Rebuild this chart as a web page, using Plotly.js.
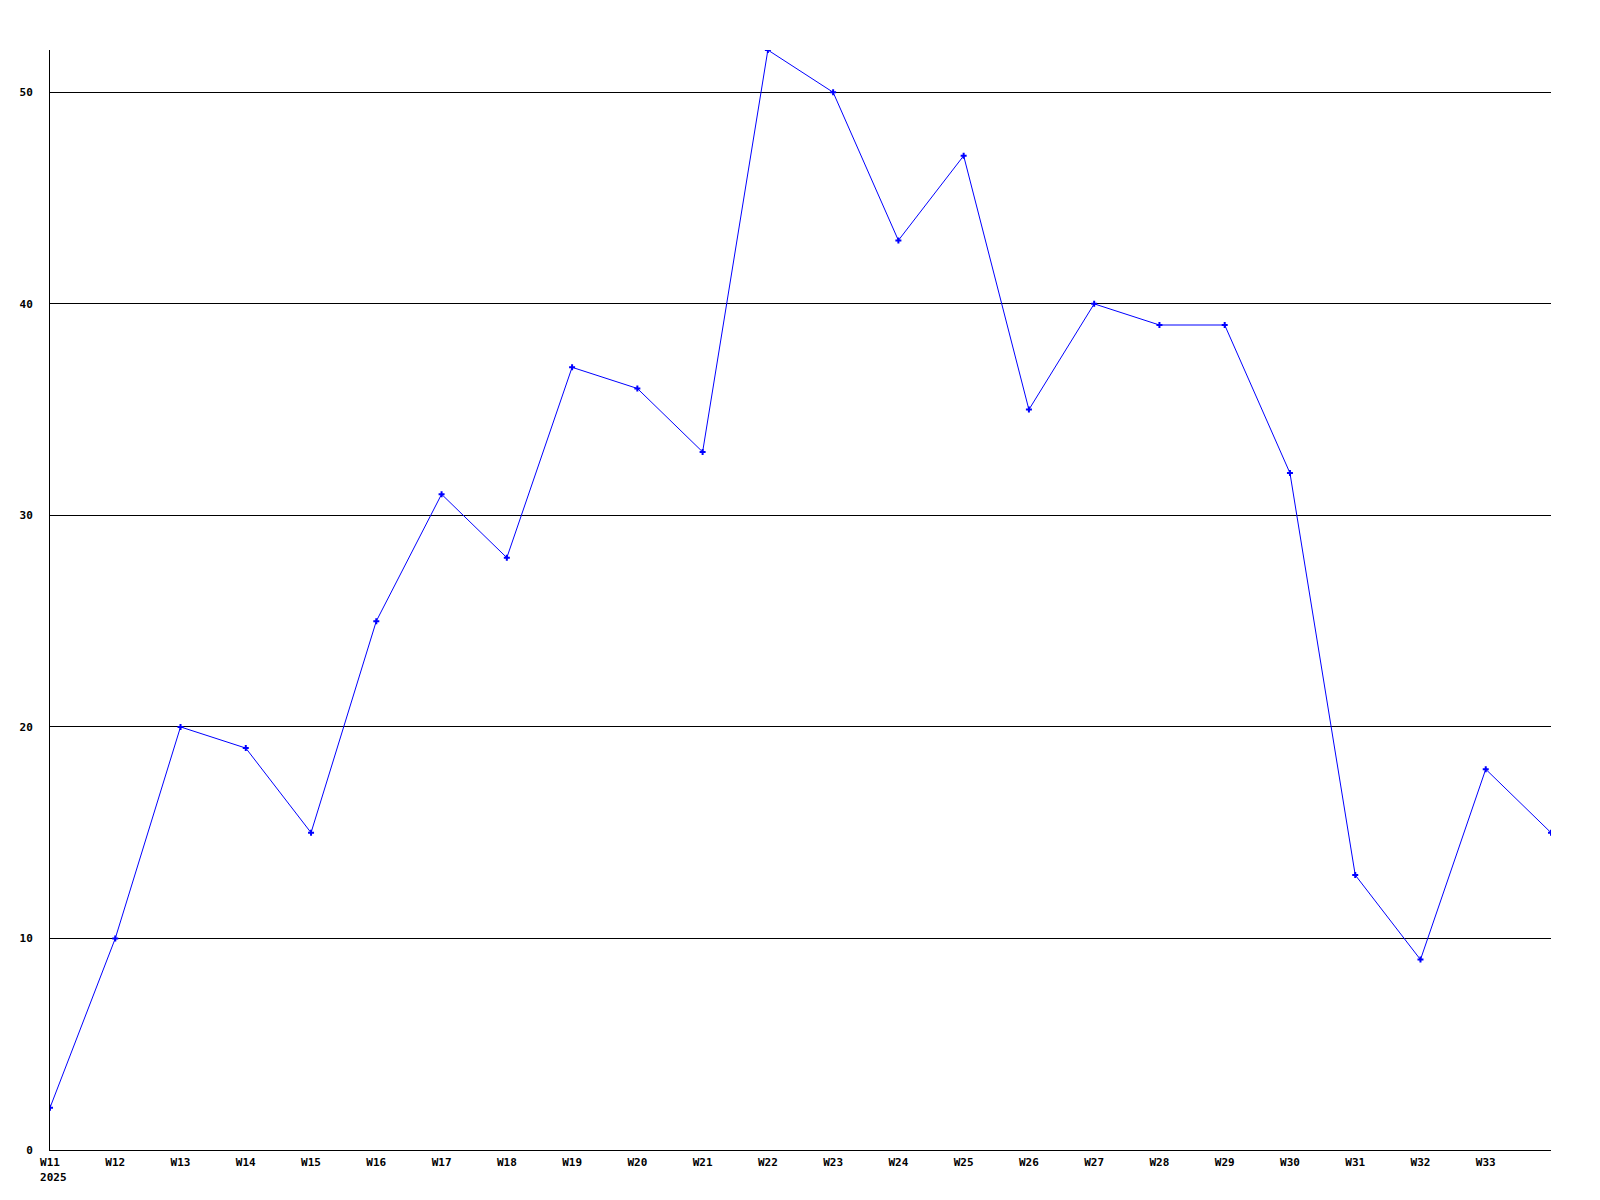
<!DOCTYPE html>
<html>
<head>
<meta charset="utf-8">
<script src="https://cdn.plot.ly/plotly-3.0.1.min.js"></script>
<style>html,body{margin:0;padding:0;background:#fff;}#chart{width:1600px;height:1200px;}</style>
</head>
<body>
<div id="chart"></div>
<script>
const weeks = ["W11","W12","W13","W14","W15","W16","W17","W18","W19","W20","W21","W22","W23","W24","W25","W26","W27","W28","W29","W30","W31","W32","W33","W34"];
const values = [2,10,20,19,15,25,31,28,37,36,33,52,50,43,47,35,40,39,39,32,13,9,18,15];
const yearLabel = "2025";
const yTicks = [0,10,20,30,40,50];

const xIdx = weeks.map((w,i)=>i);
const shownTicks = xIdx.slice(0, weeks.length-1);
const tickText = shownTicks.map(i => i===0 ? weeks[i] + "<br>&nbsp;" + yearLabel : weeks[i]);

const font = {family: "DejaVu Sans Mono, Liberation Mono, monospace", size: 11, color: "#000", weight: "bold"};

Plotly.newPlot("chart", [{
  x: xIdx,
  y: values,
  type: "scatter",
  mode: "lines+markers",
  line: {color: "#0000ff", width: 1},
  marker: {color: "#0000ff", symbol: "cross", size: 5},
  hoverinfo: "skip"
}], {
  width: 1600, height: 1200,
  margin: {l: 50, r: 49, t: 50, b: 50},
  paper_bgcolor: "#fff",
  plot_bgcolor: "#fff",
  showlegend: false,
  xaxis: {
    range: [0, weeks.length-1],
    tickvals: shownTicks,
    ticktext: tickText,
    showgrid: false,
    zeroline: false,
    showline: true,
    linecolor: "#000",
    linewidth: 1,
    ticks: "",
    ticklabelstandoff: 2,
    tickfont: font
  },
  yaxis: {
    range: [0, 52],
    tickvals: yTicks,
    ticktext: yTicks.map(String),
    showgrid: true,
    gridcolor: "#000",
    gridwidth: 1,
    zeroline: false,
    showline: true,
    linecolor: "#000",
    linewidth: 1,
    ticks: "",
    ticklabelstandoff: 14,
    tickfont: font
  }
}, {staticPlot: true});
</script>
</body>
</html>
